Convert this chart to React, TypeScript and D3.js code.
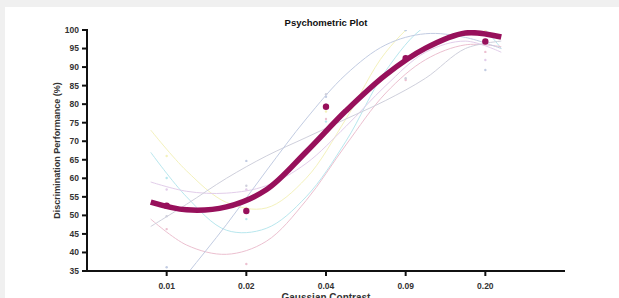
import React from 'react';
import * as d3 from 'd3';

// contrast levels (equally spaced on the axis)
const contrasts = ['0.01', '0.02', '0.04', '0.09', '0.20'];
const yTicks = [35, 40, 45, 50, 55, 60, 65, 70, 75, 80, 85, 90, 95, 100];

// mean performance per contrast
const meanValues = [52.6, 51.2, 79.3, 92.4, 96.9];

const samplePos = [-0.2, 0.25, 0.75, 1.25, 1.75, 2.25, 2.75, 3.25, 3.75, 4.2];
const meanFit = [53.6, 51.5, 52.3, 56.9, 67.1, 78.2, 87.9, 95.1, 99.2, 98.1];

const subjectNames = ['S1', 'S2', 'S3', 'S4', 'S5', 'S6'];
const subjectColors = ['#f4f2bc', '#b8e7ee', '#ecc0d0', '#e2cdea', '#cfd0dc', '#c2cce2'];
const subjectFits = [
  [73, 62, 53.5, 52, 60, 76, 94, 104, 107, 104],
  [67, 55, 46, 46.5, 55, 70, 89, 101, 104, 95],
  [49, 42, 39.5, 43, 54, 69, 83, 92, 96, 95.5],
  [59, 56.5, 56, 58, 64, 74, 85, 94, 97, 94],
  [47, 53, 60, 66, 71, 76, 81, 87, 95, 97],
  [22, 34, 47.5, 62, 76, 88, 96, 99, 98, 95],
];
// individual points per subject at each contrast
const subjectPoints = [
  [66, 52, 78, 100, 100],
  [60.1, 49, 75.3, 100, 97],
  [46.3, 36.9, 76, 86.5, 94.1],
  [57, 57, 80, 93, 91.9],
  [49.8, 58, 82.7, 87, 97],
  [36, 64.7, 82, 100, 89.2],
];

const W = 619;
const H = 298;
const left = 87, right = 565, top = 30, bottom = 271;
const accent = '#97105b';
const font = 'Liberation Sans, Arial, sans-serif';

export default function App() {
  const x = d3.scaleLinear().domain([-1, 5]).range([left, right]);
  const y = d3.scaleLinear().domain([35, 100]).range([bottom, top]);

  const line = d3
    .line<number>()
    .x((_, i) => x(samplePos[i]))
    .y((d) => y(d))
    .curve(d3.curveCatmullRom.alpha(0.5));

  return (
    <div style={{ position: 'absolute', left: 0, top: 0 }}>
      <svg width={W} height={H} style={{ display: 'block' }}>
        <rect width={W} height={H} fill="#ffffff" />
        <rect width={W} height={7} fill="#f0f0f0" />
        <rect width={5} height={H} fill="#f0f0f0" />
        <defs>
          <clipPath id="plot">
            <rect x={left} y={top} width={right - left} height={bottom - top} />
          </clipPath>
        </defs>

        <text x={326} y={26} textAnchor="middle" fontFamily={font} fontWeight="bold" fontSize={9.5} fill="#111">
          Psychometric Plot
        </text>

        {/* subject fits and points */}
        <g clipPath="url(#plot)">
          {subjectFits.map((vals, s) => (
            <path key={subjectNames[s]} d={line(vals) || ''} fill="none" stroke={subjectColors[s]} strokeWidth={1} />
          ))}
          {subjectPoints.map((vals, s) =>
            vals.map((v, i) => (
              <circle key={subjectNames[s] + i} cx={x(i)} cy={y(v)} r={1.2} fill={subjectColors[s]} />
            ))
          )}
          <path d={line(meanFit) || ''} fill="none" stroke={accent} strokeWidth={5.5} strokeLinecap="butt" />
          {meanValues.map((v, i) => (
            <circle key={contrasts[i]} cx={x(i)} cy={y(v)} r={3.2} fill={accent} />
          ))}
        </g>

        {/* y axis */}
        <line x1={left} x2={left} y1={top - 1} y2={bottom + 1} stroke="#111" strokeWidth={2} />
        {yTicks.map((t) => (
          <g key={t}>
            <line x1={left - 5} x2={left} y1={y(t)} y2={y(t)} stroke="#111" strokeWidth={2} />
            <text x={79} y={y(t)} dy="0.34em" textAnchor="end" fontFamily={font} fontWeight="bold" fontSize={8.5} fill="#333">
              {t}
            </text>
          </g>
        ))}
        <text
          transform={`translate(60,${(top + bottom) / 2}) rotate(-90)`}
          textAnchor="middle"
          fontFamily={font}
          fontWeight="bold"
          fontSize={9}
          fill="#333"
        >
          Discrimination Performance (%)
        </text>

        {/* x axis */}
        <line x1={left - 1} x2={right} y1={bottom} y2={bottom} stroke="#111" strokeWidth={2} />
        {contrasts.map((c, i) => (
          <g key={c}>
            <line x1={x(i)} x2={x(i)} y1={bottom} y2={bottom + 5} stroke="#111" strokeWidth={2} />
            <text x={x(i)} y={289} textAnchor="middle" fontFamily={font} fontWeight="bold" fontSize={8.5} fill="#333">
              {c}
            </text>
          </g>
        ))}
        <text x={326} y={301} textAnchor="middle" fontFamily={font} fontWeight="bold" fontSize={10} fill="#333">
          Gaussian Contrast
        </text>
      </svg>
    </div>
  );
}
